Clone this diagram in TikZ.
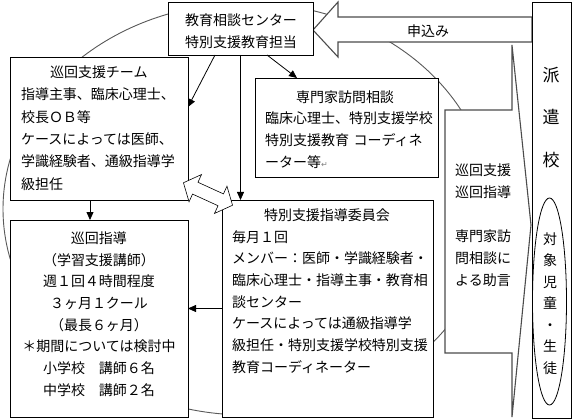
\documentclass[tikz,border=0pt]{standalone}
\usepackage{fontspec}
\setmainfont{Noto Sans CJK JP}
\newfontfamily\symfont{DejaVu Sans}
\usetikzlibrary{arrows.meta,calc,shapes.geometric}
\begin{document}
\begin{tikzpicture}[x=1pt,y=-1pt,
  box/.style={draw=black, line width=0.8pt, fill=white, inner sep=0pt, outer sep=0pt, anchor=north west},
  txt/.style={inner sep=0pt, font=\fontsize{14}{22}\selectfont},
  grayline/.style={draw=black!70, line width=1.1pt},
  arr/.style={line width=0.8pt, -{Triangle[length=8pt,width=7pt]}}]
\useasboundingbox[fill=white] (0,0) rectangle (574,420);
% background cycle
\draw[draw=black!65, line width=0.9pt] (247,209) ellipse [x radius=244pt, y radius=206pt];
% application block arrow
\draw[grayline, fill=white] (313,30) -- (338,2) -- (338,17) -- (532,17) -- (532,42) -- (338,42) -- (338,57) -- cycle;
\node[txt] (apply) at (428,31) {申込み};
% callout
\draw[grayline, fill=white] (445,110) -- (512,110) -- (512,45) -- (531,225) -- (512,417) -- (512,353) -- (445,353) -- cycle;
\node[txt, align=center] (callouttxt) at (483,225) {巡回支援\\巡回指導\\[22pt]専門家訪\\問相談に\\よる助言};
% boxes
\node[box, minimum width=145pt, minimum height=53pt] (center) at (168,2) {};
\node[box, minimum width=178pt, minimum height=143pt] (team) at (10,57) {};
\node[box, minimum width=183pt, minimum height=99pt] (expert) at (255,78) {};
\node[box, minimum width=211pt, minimum height=217pt] (committee) at (222,200) {};
\node[box, minimum width=178pt, minimum height=197pt] (visit) at (10,220) {};
\node[box, minimum width=39pt, minimum height=416pt] (school) at (532,2) {};
\node[draw=black, line width=0.8pt, ellipse, inner sep=0pt, minimum width=34pt, minimum height=207pt] (subject) at (549.5,301.5) {};
% texts
\node[txt, align=center] (centertxt) at (241,31) {教育相談センター\\特別支援教育担当};
\node[txt, align=left, text width=157pt, font=\fontsize{14}{22.4}\selectfont] (teamtxt) at (99.5,128)
  {\hspace*{29pt}巡回支援チーム\\指導主事、臨床心理士、\\校長ＯＢ等\\ケースによっては医師、\\学識経験者、通級指導学\\級担任};
\node[txt, align=left, text width=170pt, font=\fontsize{14}{21.7}\selectfont] (experttxt) at (350,129.5)
  {\hspace*{31pt}専門家訪問相談\\臨床心理士、特別支援学校\\特別支援教育 コーディネ\\ーター等{\symfont\fontsize{8}{8}\selectfont\color{gray}↵}};
\node[txt, align=left, text width=198pt, font=\fontsize{14}{21.7}\selectfont] (committeetxt) at (331,291)
  {\hspace*{32pt}特別支援指導委員会\\毎月１回\\メンバー：医師・学識経験者・\\臨床心理士・指導主事・教育相\\談センター\\ケースによっては通級指導学\\級担任・特別支援学校特別支援\\教育コーディネーター};
\node[txt, align=center, font=\fontsize{14}{21.7}\selectfont] (visittxt) at (99,314)
  {巡回指導\\（学習支援講師）\\週１回４時間程度\\３ヶ月１クール\\（最長６ヶ月）\\＊期間については検討中\\小学校　講師６名\\中学校　講師２名};
\node[txt, align=center, font=\fontsize{17}{42.5}\selectfont] (schooltxt) at (551,117.5) {派\\遣\\校};
\node[txt, align=center, font=\fontsize{14}{21.5}\selectfont] (subjecttxt) at (550,303.5) {対\\象\\児\\童\\・\\生\\徒};
% connectors
\draw[arr] (center.south) -- (center.south |- committee.north);
\draw[arr] ([xshift=47pt]center.south west) -- ([yshift=21.5pt]team.east);
\draw[arr] ([xshift=99pt]center.south west) -- ([xshift=42pt]expert.north west);
\draw[arr] ([xshift=-9pt]team.south) -- ([xshift=-9pt]visit.north);
\draw[arr] (committee.west) -- (committee.west -| visit.east);
% double block arrow between team and committee
\begin{scope}[shift={(208,194)}, rotate=-24.6]
\draw[line width=0.6pt, fill=white] (-27,0) -- (-14,15) -- (-14,6.5) -- (14,6.5) -- (14,15) -- (27,0) -- (14,-15) -- (14,-6.5) -- (-14,-6.5) -- (-14,-15) -- cycle;
\end{scope}
\end{tikzpicture}
\end{document}
